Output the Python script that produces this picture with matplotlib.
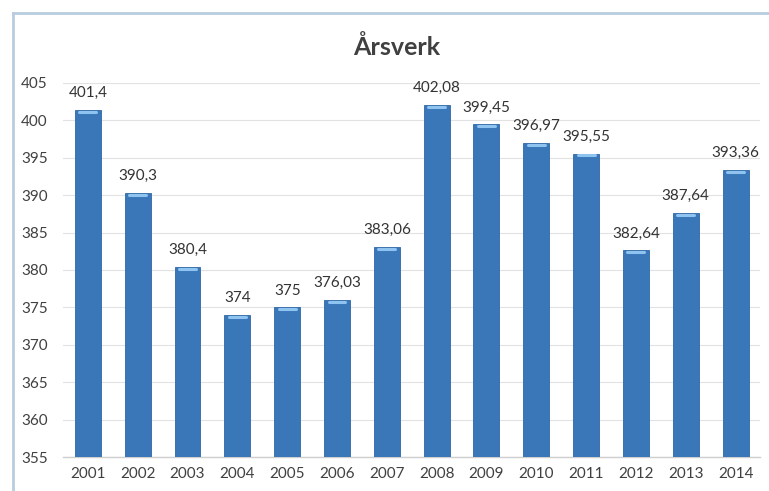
import matplotlib
matplotlib.use("Agg")
import matplotlib.pyplot as plt
from matplotlib.lines import Line2D

years = ["2001", "2002", "2003", "2004", "2005", "2006", "2007",
         "2008", "2009", "2010", "2011", "2012", "2013", "2014"]
values = [401.4, 390.3, 380.4, 374, 375, 376.03, 383.06,
          402.08, 399.45, 396.97, 395.55, 382.64, 387.64, 393.36]
labels = ["401,4", "390,3", "380,4", "374", "375", "376,03", "383,06",
          "402,08", "399,45", "396,97", "395,55", "382,64", "387,64", "393,36"]
yticks = [355, 360, 365, 370, 375, 380, 385, 390, 395, 400, 405]

plt.rcParams['font.family'] = ['Lato', 'DejaVu Sans']

fig = plt.figure(figsize=(7.69, 4.91), dpi=100)
ax = fig.add_axes([0.0819, 0.0692, 0.907, 0.762])

x = list(range(len(years)))
base = 355
bars = ax.bar(x, [v - base for v in values], bottom=base, width=0.52,
              color="#3a77b9", edgecolor="#2f67a6", linewidth=0.6, zorder=3)

# highlight at top of each bar
for xi, v in zip(x, values):
    ax.plot([xi - 0.17, xi + 0.17], [v - 0.25, v - 0.25], color="#8fc3f0",
            linewidth=2.2, solid_capstyle="round", zorder=4)
    ax.annotate(labels[xi], (xi, v), xytext=(0, 7), textcoords="offset points",
                ha="center", va="bottom", fontsize=11, color="#333333")

ax.set_ylim(355, 405)
ax.set_xlim(-0.5, len(years) - 0.5)
ax.set_yticks(yticks)
ax.set_yticklabels([str(t) for t in yticks])
ax.set_xticks(x)
ax.set_xticklabels(years)
ax.tick_params(axis="both", length=0, labelsize=11, colors="#404040")
ax.tick_params(axis="x", pad=7)
ax.tick_params(axis="y", pad=11)
ax.grid(axis="y", color="#e2e2e2", linewidth=0.8, zorder=0)
for s in ["top", "right", "left"]:
    ax.spines[s].set_visible(False)
ax.spines["bottom"].set_color("#cfcfcf")
ax.spines["bottom"].set_linewidth(1.0)

fig.text(0.516, 0.905, "Årsverk", ha="center", va="center",
         fontsize=18, fontweight="bold", color="#404040")

# figure border (left and top)
fig.add_artist(Line2D([0.0165, 0.0165], [0.0, 0.973], transform=fig.transFigure,
                      color="#b8cde0", linewidth=2))
fig.add_artist(Line2D([0.0165, 1.0], [0.973, 0.973], transform=fig.transFigure,
                      color="#b8cde0", linewidth=2))

fig.savefig("out.png", dpi=100)
